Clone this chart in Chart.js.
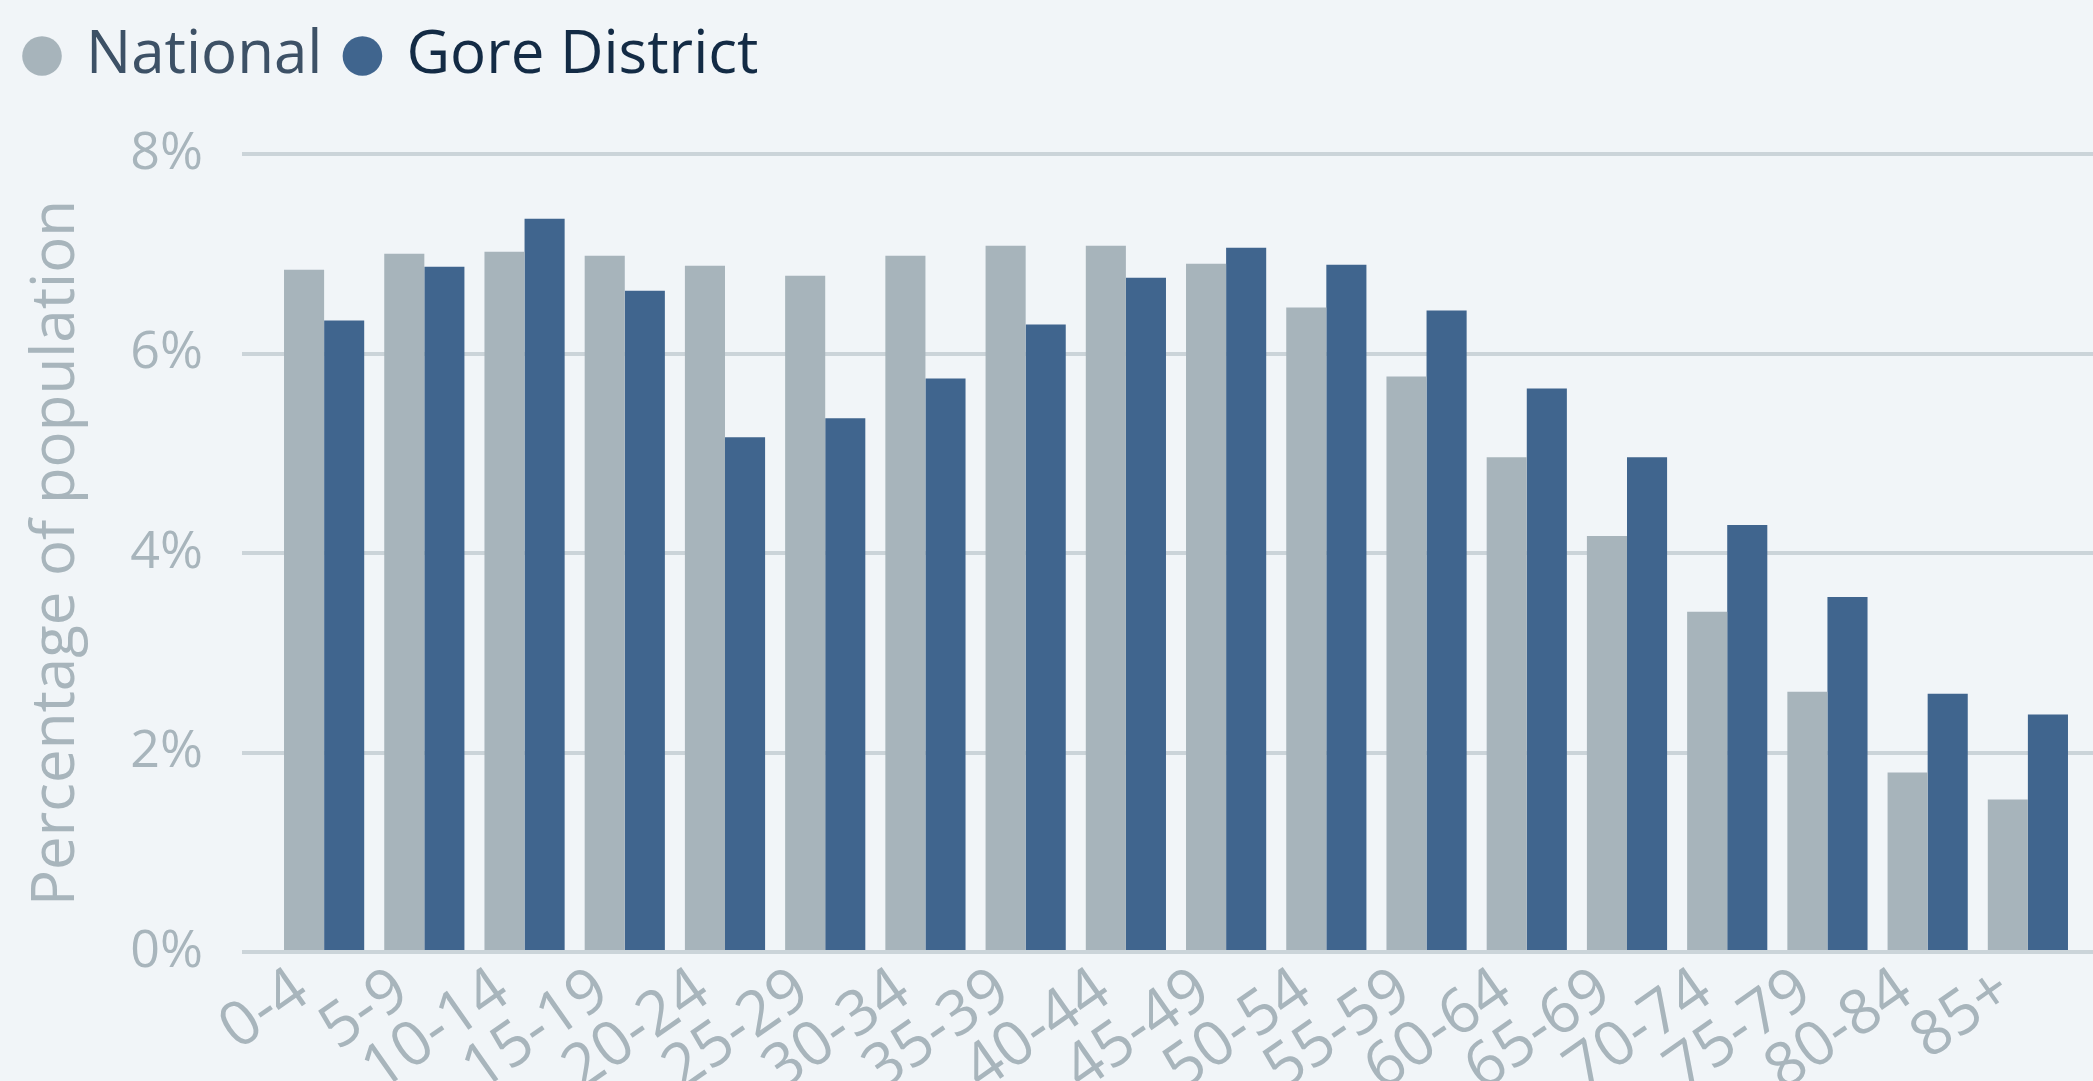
<!DOCTYPE html>
<html>
<head>
<meta charset="utf-8">
<script src="https://cdn.jsdelivr.net/npm/chart.js@4.4.1/dist/chart.umd.min.js"></script>
<style>
  html, body { margin: 0; padding: 0; background: #f1f5f8; }
  #wrap { width: 2093px; height: 1081px; position: relative; }
</style>
</head>
<body>
<div id="wrap"><canvas id="myChart"></canvas></div>
<script>
// age bands along the x axis
const ageGroups = ['0-4', '5-9', '10-14', '15-19', '20-24', '25-29', '30-34', '35-39', '40-44',
                   '45-49', '50-54', '55-59', '60-64', '65-69', '70-74', '75-79', '80-84', '85+'];

// percent of population in each band
const national = [6.84, 7.00, 7.02, 6.98, 6.88, 6.78, 6.98, 7.08, 7.08,
                  6.90, 6.46, 5.77, 4.96, 4.17, 3.41, 2.61, 1.80, 1.53];
const goreDistrict = [6.33, 6.87, 7.35, 6.63, 5.16, 5.35, 5.75, 6.29, 6.76,
                      7.06, 6.89, 6.43, 5.65, 4.96, 4.28, 3.56, 2.59, 2.38];

const yTicks = [0, 2, 4, 6, 8];

const fontFamily = "'Segoe UI', 'Open Sans', sans-serif";
const grey = '#a8b5bc';
const gridColor = '#cbd4d9';
const legendColors = ['#3d5166', '#132b45'];

// push the plot down a bit under the legend
const legendGap = {
    id: 'legendGap',
    beforeInit(chart) {
        const fit = chart.legend.fit;
        chart.legend.fit = function() {
            fit.bind(chart.legend)();
            this.height += 58;
        };
    }
};

const ctx = document.getElementById('myChart');

let bar = new Chart(ctx, {
    type: 'bar',
    data: {
        labels: ageGroups,
        datasets: [{
            label: 'National',
            data: national,
            backgroundColor: '#a7b4bb',
            borderWidth: 0,
            categoryPercentage: 0.8,
            barPercentage: 1.0
        }, {
            label: 'Gore District',
            data: goreDistrict,
            backgroundColor: '#40658e',
            borderWidth: 0,
            categoryPercentage: 0.8,
            barPercentage: 1.0
        }]
    },
    options: {
        responsive: true,
        maintainAspectRatio: false,
        animation: false,
        layout: { padding: { left: 2, right: 0, top: 0, bottom: 0 } },
        plugins: {
            tooltip: { enabled: false },
            legend: {
                position: 'top',
                align: 'start',
                labels: {
                    usePointStyle: true,
                    pointStyle: 'circle',
                    boxWidth: 28,
                    boxHeight: 28,
                    padding: 26,
                    font: { family: fontFamily, size: 60 },
                    generateLabels: function(chart) {
                        let items = Chart.defaults.plugins.legend.labels.generateLabels(chart);
                        items.forEach((item, i) => { item.fontColor = legendColors[i]; });
                        return items;
                    }
                }
            }
        },
        scales: {
            x: {
                grid: { display: false, drawTicks: false },
                border: { display: false },
                ticks: {
                    color: grey,
                    font: { family: fontFamily, size: 62 },
                    minRotation: 35,
                    maxRotation: 35,
                    autoSkip: false,
                    padding: 2,
                    labelOffset: -22
                },
                afterFit: function(scale) { scale.height = 129; }
            },
            y: {
                min: 0,
                max: 8,
                afterBuildTicks: function(scale) { scale.ticks = yTicks.map(v => ({ value: v })); },
                grid: { color: gridColor, lineWidth: 4, tickLength: 32 },
                border: { display: false },
                ticks: {
                    color: grey,
                    padding: 39,
                    font: { family: fontFamily, size: 52 },
                    callback: function(v) { return v + '%'; }
                },
                title: {
                    display: true,
                    text: 'Percentage of population',
                    color: grey,
                    font: { family: fontFamily, size: 60 },
                    padding: { top: 19, bottom: 0 }
                },
                afterFit: function(scale) { scale.width = 272; }
            },
            y2: {
                position: 'right',
                min: 0,
                max: 8,
                afterBuildTicks: function(scale) { scale.ticks = yTicks.map(v => ({ value: v })); },
                grid: { color: gridColor, lineWidth: 4, tickLength: 15, drawOnChartArea: false },
                border: { display: false },
                ticks: { display: false },
                afterFit: function(scale) { scale.width = 15; }
            }
        }
    },
    plugins: [legendGap]
});
</script>
</body>
</html>
